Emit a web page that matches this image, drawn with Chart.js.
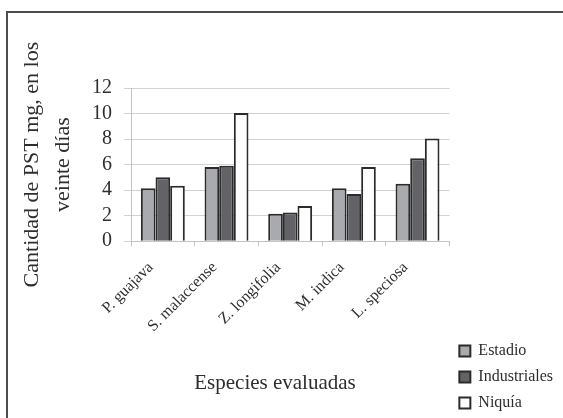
<!DOCTYPE html>
<html>
<head>
<meta charset="utf-8">
<script src="https://cdn.jsdelivr.net/npm/chart.js@4.4.1/dist/chart.umd.min.js"></script>
<style>
    html, body { margin: 0; padding: 0; background: #fff; overflow: hidden; }
    #frame { position: absolute; left: 6px; top: 11px; width: 620px; height: 460px;
             border-top: 2px solid #4d4d4d; border-left: 2px solid #4d4d4d; }
    #wrap { position: absolute; left: -13px; top: 0; width: 576px; height: 418px; }
</style>
</head>
<body>
<div id="frame"></div>
<div id="wrap"><canvas id="growth"></canvas></div>
<script>
// Especies y valores (PST mg en veinte días)
const especies = ['P. guajava', 'S. malaccense', 'Z. longifolia', 'M. indica', 'L. speciosa'];
const estadio = [4.15, 5.8, 2.15, 4.15, 4.5];
const industriales = [5.0, 5.9, 2.25, 3.7, 6.5];
const niquia = [4.35, 10.05, 2.75, 5.8, 8.05];
const yMax = 12;
const yStep = 2;

const serif = 'Liberation Serif, Times New Roman, serif';
const ink = '#2e2e2e';

const ctx = document.getElementById('growth').getContext('2d');
new Chart(ctx, {
    type: 'bar',
    data: {
        labels: especies,
        datasets: [
            { label: 'Estadio', data: estadio, backgroundColor: '#a9aaae', borderColor: '#2b2b2b', borderWidth: 2 },
            { label: 'Industriales', data: industriales, backgroundColor: '#636367', borderColor: '#2b2b2b', borderWidth: 2 },
            { label: 'Niquía', data: niquia, backgroundColor: '#fdfdfd', borderColor: '#2b2b2b', borderWidth: 2 }
        ]
    },
    options: {
        responsive: true,
        maintainAspectRatio: false,
        animation: false,
        layout: { padding: { top: 88, left: 0, right: 0, bottom: -3 } },
        datasets: { bar: { categoryPercentage: 0.69, barPercentage: 1.0 } },
        plugins: {
            tooltip: { enabled: false },
            legend: {
                position: 'right',
                align: 'end',
                labels: {
                    boxWidth: 11,
                    boxHeight: 11,
                    padding: 10,
                    color: ink,
                    font: { family: serif, size: 16 }
                }
            },
            title: {
                display: true,
                position: 'bottom',
                text: 'Especies evaluadas',
                color: ink,
                font: { family: serif, size: 21, weight: 'normal' },
                padding: { top: 23, bottom: 25 }
            }
        },
        scales: {
            x: {
                grid: { drawOnChartArea: false, tickLength: 5, color: '#c4c4c4', offset: true },
                border: { color: '#c4c4c4' },
                ticks: {
                    color: ink,
                    font: { family: serif, size: 16 },
                    maxRotation: 45,
                    minRotation: 45,
                    padding: 12,
                    labelOffset: -12
                }
            },
            y: {
                min: 0,
                max: yMax,
                grid: { color: '#d2d2d2', tickLength: 7 },
                border: { color: '#c4c4c4' },
                ticks: {
                    stepSize: yStep,
                    autoSkip: false,
                    color: ink,
                    padding: 12,
                    font: { family: serif, size: 20 }
                },
                title: {
                    display: true,
                    text: ['Cantidad de PST mg, en los', 'veinte días'],
                    color: ink,
                    font: { family: serif, size: 22, lineHeight: 1.4 },
                    padding: { top: 30, bottom: 14 }
                }
            }
        }
    }
});
</script>
</body>
</html>
